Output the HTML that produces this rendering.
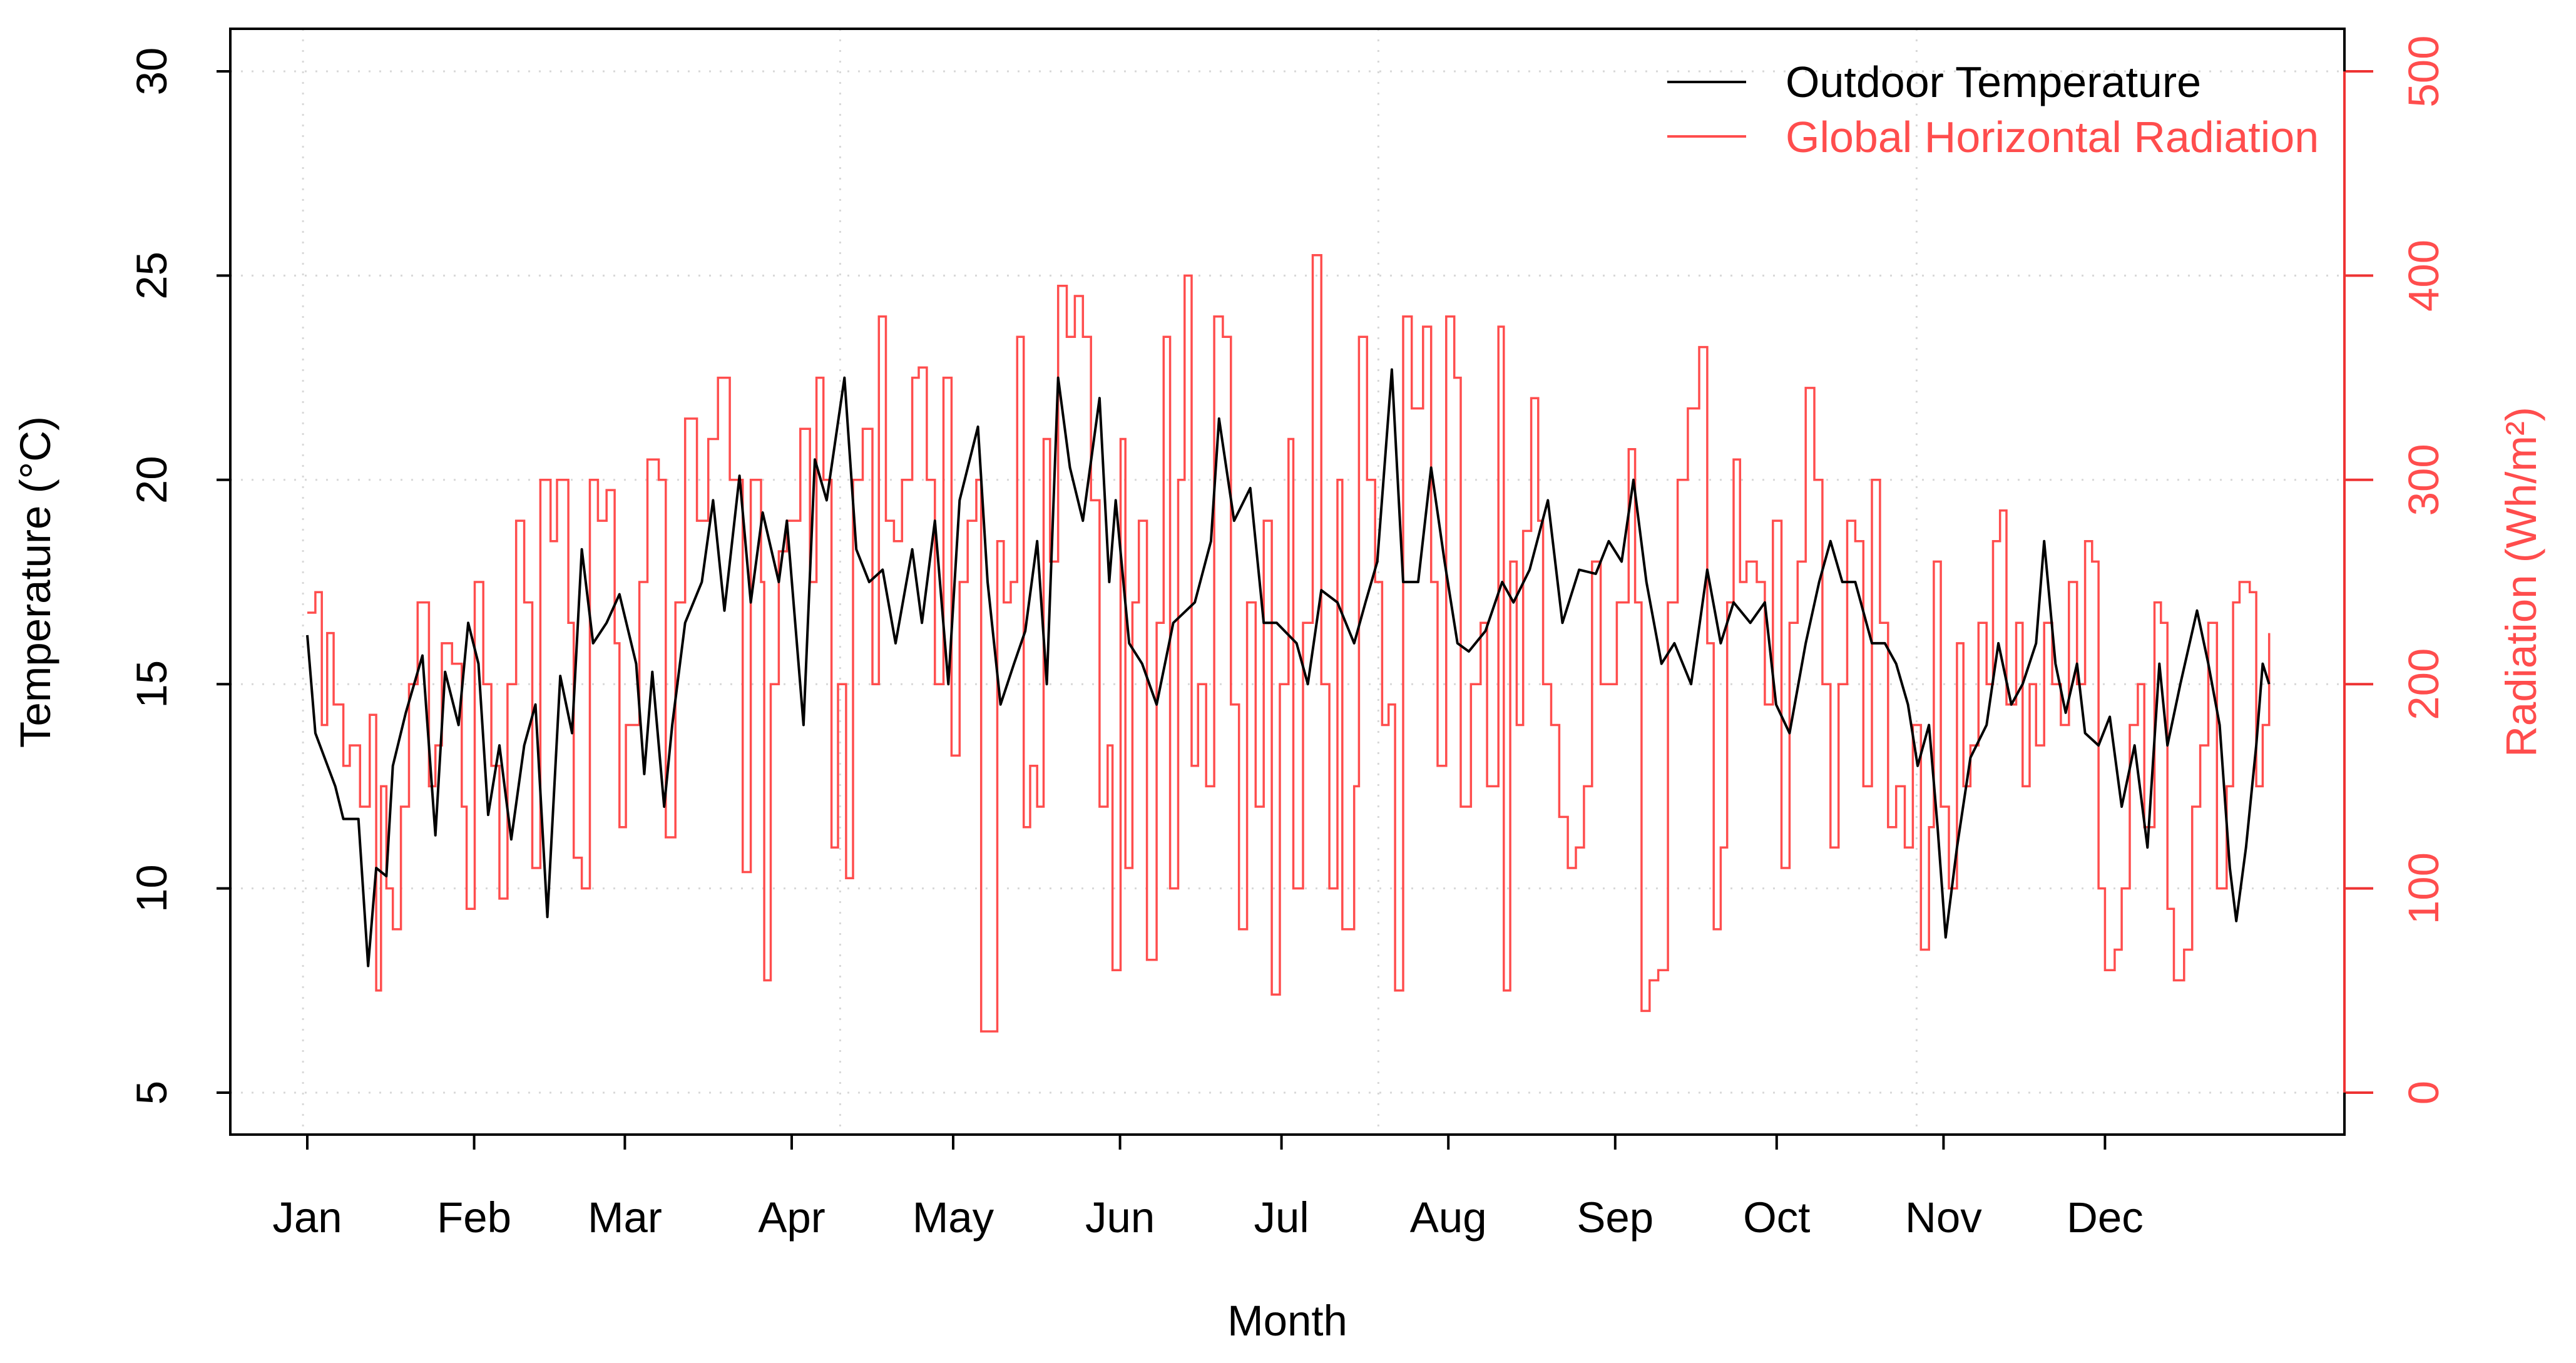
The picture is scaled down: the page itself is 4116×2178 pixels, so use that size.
<!DOCTYPE html>
<html><head><meta charset="utf-8"><style>
html,body{margin:0;padding:0;background:#fff;}
svg{display:block;font-family:"Liberation Sans",Arial,sans-serif;}
</style></head><body>
<svg id="chart" width="4116" height="2178" viewBox="0 0 4116 2178" xmlns="http://www.w3.org/2000/svg">
<rect x="0" y="0" width="4116" height="2178" fill="#fff"/>
<g id="grid"></g>
<g id="series"></g>
<g id="axes"></g>
<rect x="368" y="46" width="3378" height="1767" fill="none" stroke="#000" stroke-width="4"/>
<line x1="3746" y1="114" x2="3746" y2="1746" stroke="#e33" stroke-width="4"/>
<text x="80" y="930" font-size="69" text-anchor="middle" transform="rotate(-90 80 930)">Temperature (°C)</text>
<text x="4052" y="930" font-size="69" fill="#ff4d4d" text-anchor="middle" transform="rotate(-90 4052 930)">Radiation (Wh/m²)</text>
<text x="2057" y="2134" font-size="69" text-anchor="middle">Month</text>
<g>
<line x1="2664" y1="131" x2="2790" y2="131" stroke="#000" stroke-width="4"/>
<text x="2853" y="155" font-size="70">Outdoor Temperature</text>
<line x1="2664" y1="218" x2="2790" y2="218" stroke="#ff4d4d" stroke-width="4"/>
<text x="2853" y="243" font-size="70" fill="#ff4d4d">Global Horizontal Radiation</text>
</g>
</svg>
<script>
const months=["Jan","Feb","Mar","Apr","May","Jun","Jul","Aug","Sep","Oct","Nov","Dec"];
const monthStartDays=[0,31,59,90,120,151,181,212,243,273,304,334];
const tempTicks=[5,10,15,20,25,30];
const radTicks=[0,100,200,300,400,500];
const vGridDays=[-0.8,99,199,299];
const tempDays=[0,1.5,5.2,6.7,9.5,11.3,12.8,14.7,15.9,18.3,21.4,23.8,25.6,28.1,29.9,31.8,33.6,35.7,37.9,40.3,42.4,44.6,47,49.2,51,53.1,55.6,58,61.1,62.6,64.1,66.3,67.8,70.2,73.3,75.4,77.5,80.3,82.4,84.6,87.6,89.1,92.2,94.3,96.5,99.8,102,104.4,106.9,109.3,112.4,114.2,116.6,119.1,121.2,124.6,126.4,128.8,131.3,133.4,135.6,137.4,139.5,141.7,144.1,147.2,149,150.2,152.7,155.1,157.8,160.9,164.9,167.9,169.4,172.2,175.2,177.7,180.1,183.8,185.9,188.4,191.4,194.5,196.6,198.8,201.5,203.6,206.4,208.8,211.3,213.7,215.8,218.9,222,224.1,227.1,230.5,233.2,236.3,239.4,241.8,244.2,246.4,248.8,251.6,254,257.1,260.1,262.6,265,268.1,270.8,272.9,275.4,278.4,280.9,283,285.2,287.6,290.7,293.1,295.2,297.4,299.2,301.3,302.9,304.4,306.5,309,312,314.2,316.6,318.7,321.2,322.7,324.8,326.7,328.8,330.3,332.8,334.9,337.1,339.5,341.9,344.1,345.6,348,351.1,353.2,355.3,357.2,358.4,360.2,362.1,363.3,364.5];
const tempValues=[16.2,13.8,12.5,11.7,11.7,8.1,10.5,10.3,13,14.3,15.7,11.3,15.3,14,16.5,15.5,11.8,13.5,11.2,13.5,14.5,9.3,15.2,13.8,18.3,16,16.5,17.2,15.5,12.8,15.3,12,14,16.5,17.5,19.5,16.8,20.1,17,19.2,17.5,19,14,20.5,19.5,22.5,18.3,17.5,17.8,16,18.3,16.5,19,15,19.5,21.3,17.5,14.5,15.5,16.3,18.5,15,22.5,20.3,19,22,17.5,19.5,16,15.5,14.5,16.5,17,18.5,21.5,19,19.8,16.5,16.5,16,15,17.3,17,16,17,18,22.7,17.5,17.5,20.3,18,16,15.8,16.3,17.5,17,17.8,19.5,16.5,17.8,17.7,18.5,18,20,17.5,15.5,16,15,17.8,16,17,16.5,17,14.5,13.8,16,17.5,18.5,17.5,17.5,16,16,15.5,14.5,13,14,11.5,8.8,11,13.2,14,16,14.5,15,16,18.5,15.5,14.3,15.5,13.8,13.5,14.2,12,13.5,11,15.5,13.5,15,16.8,15.5,14,10.5,9.2,11,13.5,15.5,15];
const radDays=[0,1.5,2.7,3.7,4.9,6.7,7.9,9.8,11.6,12.8,13.7,14.7,15.9,17.4,18.9,20.5,22.6,23.8,25,26.9,28.7,29.6,31.1,32.7,34.2,35.7,37.2,38.8,40.3,41.8,43.3,45.2,46.4,48.5,49.5,51,52.5,54,55.6,57.1,58,59.2,61.7,63.2,65.3,66.6,68.4,70.2,72.4,74.5,76.3,78.5,80.9,82.4,84.3,84.9,86.1,87.6,89.1,91.6,93.4,94.6,95.9,97.4,98.6,100.1,101.4,103.2,105,106.2,107.5,109,110.5,112.4,113.6,115.1,116.6,118.2,119.7,121.2,122.7,124.3,125.2,126.7,128.2,129.4,130.7,131.9,133.1,134.3,135.6,136.8,138,139.5,141.1,142.6,144.1,145.6,147.2,148.7,149.6,151.1,152,153.3,154.5,156,157.8,159.1,160.3,161.8,163,164.3,165.5,167,168.5,170.1,171.6,173.1,174.6,176.2,177.7,179.2,180.7,182.3,183.2,185,186.8,188.4,189.9,191.4,192.3,194.5,195.4,196.9,198.4,199.7,200.9,202.1,203.6,205.2,207.3,208.8,210,211.6,213.1,214.3,216.2,218,219.2,221.3,222.3,223.5,224.7,225.9,227.4,228.7,229.6,231.1,232.6,234.2,235.7,237.2,238.7,240.3,241.8,243.3,245.5,246.7,247.9,249.4,251,252.8,254.6,256.5,258.6,260.1,261.3,262.6,263.8,265,266.2,267.4,269.3,270.8,272.3,273.9,275.4,276.9,278.4,280,281.5,283,284.5,286.1,287.6,289.1,290.7,292.2,293.7,295.2,296.8,298.3,299.8,301.3,302.2,303.5,305,306.5,307.7,309,310.5,312,313.2,314.5,315.7,317.5,318.7,320,321.2,322.7,324.2,325.8,327.3,328.8,330.3,331.6,332.8,334,335.8,337.1,338.6,340.1,341.3,343.2,344.4,345.6,346.8,348.7,350.2,351.7,353.2,354.8,356.6,357.8,359,360.9,362.1,363.3,364.5];
const radValues=[235,245,180,225,190,160,170,140,185,50,150,100,80,140,200,240,150,170,220,210,140,90,250,200,160,95,200,280,240,110,300,270,300,230,115,100,300,280,295,220,130,180,250,310,300,125,240,330,280,320,350,300,108,300,250,55,200,265,280,325,250,350,300,120,200,105,300,325,200,380,280,270,300,350,355,300,200,350,165,250,280,300,30,30,270,240,250,370,130,160,140,320,260,395,370,390,370,290,140,170,60,320,110,240,280,65,230,370,100,300,400,160,200,150,380,370,190,80,240,140,280,48,200,320,100,230,410,200,100,300,80,150,370,300,250,180,190,50,380,335,375,250,160,380,350,140,200,230,150,375,50,260,180,275,340,280,200,180,135,110,120,150,260,200,200,240,315,240,40,55,60,240,300,335,365,220,80,120,240,310,250,260,250,190,280,110,230,260,345,300,200,120,200,280,270,150,300,230,130,150,120,180,70,130,260,140,100,220,150,170,230,200,270,285,190,230,150,200,170,230,200,180,250,200,270,260,100,60,70,100,180,200,130,240,230,90,55,70,140,170,230,100,150,240,250,245,150,180,225];

const NS="http://www.w3.org/2000/svg";
const X0=491, DAYPX=8.6;
function xDay(d){return X0+d*DAYPX;}
function yTemp(t){return 1746-(t-5)*65.28;}
function yRad(r){return 1746-r*3.264;}
function mk(tag,attrs,parent){const e=document.createElementNS(NS,tag);for(const k in attrs)e.setAttribute(k,attrs[k]);parent.appendChild(e);return e;}
const grid=document.getElementById('grid'),series=document.getElementById('series'),axes=document.getElementById('axes');

tempTicks.forEach(t=>{
  const g=mk('line',{x1:368,x2:3746,y1:yTemp(t),y2:yTemp(t),stroke:'#d8d8d8','stroke-width':3,'stroke-dasharray':'3 14'},grid);
  
  
  const tk=mk('line',{x1:346,x2:368,y1:yTemp(t),y2:yTemp(t),stroke:'#000','stroke-width':4},axes);
  
  
  const tx=mk('text',{x:266,y:yTemp(t),'font-size':69,'text-anchor':'middle',transform:`rotate(-90 266 ${yTemp(t)})`},axes);
  tx.textContent=t;
  
  
});
vGridDays.forEach(d=>{
  const g=mk('line',{x1:xDay(d),x2:xDay(d),y1:46,y2:1813,stroke:'#d8d8d8','stroke-width':3,'stroke-dasharray':'3 14'},grid);
  
  
});
radTicks.forEach(r=>{
  const tk=mk('line',{x1:3746,x2:3792,y1:yRad(r),y2:yRad(r),stroke:'#e33','stroke-width':4},axes);
  
  
  const tx=mk('text',{x:3896,y:yRad(r),'font-size':69,fill:'#ff4d4d','text-anchor':'middle',transform:`rotate(-90 3896 ${yRad(r)})`},axes);
  tx.textContent=r;
  
  
});
months.forEach((m,i)=>{
  const x=xDay(monthStartDays[i]);
  const tk=mk('line',{x1:x,x2:x,y1:1813,y2:1837,stroke:'#000','stroke-width':4},axes);
  
  
  const tx=mk('text',{x:x,y:1969,'font-size':69,'text-anchor':'middle'},axes);
  tx.textContent=m;
  
  
});
let rd='';
radDays.forEach((d,i)=>{
  const x=xDay(d).toFixed(1),y=yRad(radValues[i]).toFixed(1);
  if(i===0) rd+=`M${x},${y}`; else rd+=`H${x}V${y}`;
});
const rp=mk('path',{d:rd,fill:'none',stroke:'#ff4d4d','stroke-width':3.5,'stroke-linejoin':'miter'},series);


let td='';
tempDays.forEach((d,i)=>{td+=(i?'L':'M')+xDay(d).toFixed(1)+','+yTemp(tempValues[i]).toFixed(1);});
const tp=mk('path',{d:td,fill:'none',stroke:'#000','stroke-width':4,'stroke-linejoin':'round'},series);


</script>
</body></html>
